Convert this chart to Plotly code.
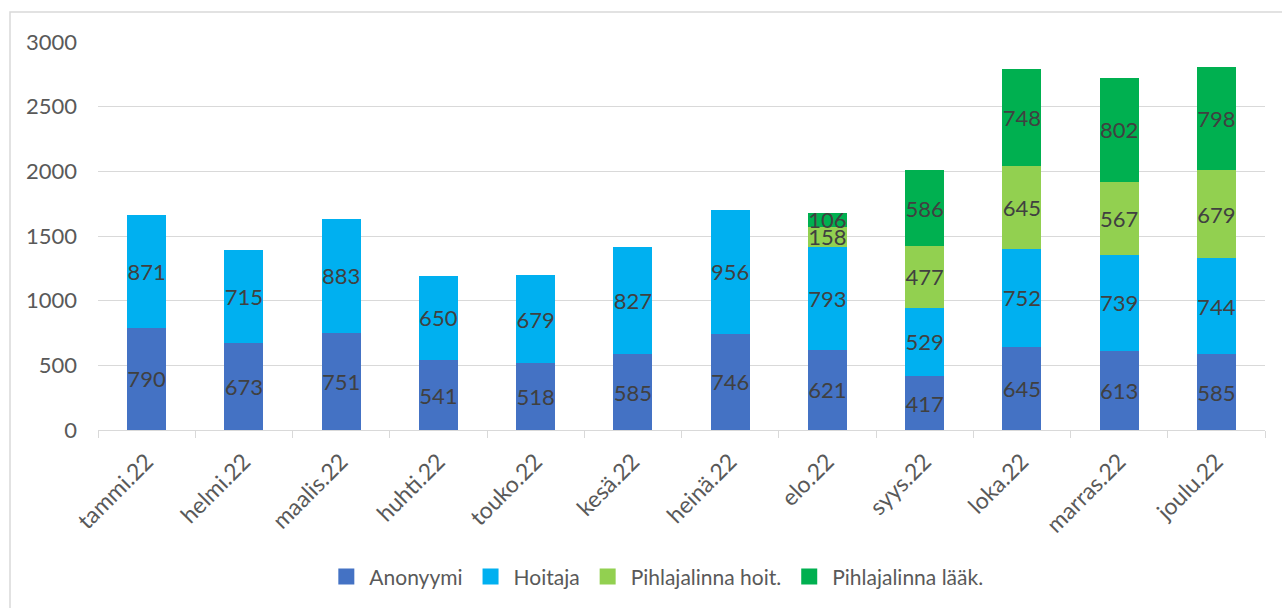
import plotly.graph_objects as go

months = ["tammi.22", "helmi.22", "maalis.22", "huhti.22", "touko.22", "kesä.22",
          "heinä.22", "elo.22", "syys.22", "loka.22", "marras.22", "joulu.22"]
anonyymi = [790, 673, 751, 541, 518, 585, 746, 621, 417, 645, 613, 585]
hoitaja = [871, 715, 883, 650, 679, 827, 956, 793, 529, 752, 739, 744]
pihl_hoit = [None, None, None, None, None, None, None, 158, 477, 645, 567, 679]
pihl_laak = [None, None, None, None, None, None, None, 106, 586, 748, 802, 798]

series = [
    ("Anonyymi", anonyymi, "#4472C4"),
    ("Hoitaja", hoitaja, "#00B0F0"),
    ("Pihlajalinna hoit.", pihl_hoit, "#92D050"),
    ("Pihlajalinna lääk.", pihl_laak, "#00B050"),
]

FONT = "Lato, Open Sans, sans-serif"

fig = go.Figure()
for name, vals, color in series:
    fig.add_trace(go.Bar(
        x=months, y=vals, name=name, legendgroup=name, showlegend=False,
        marker=dict(color=color, line=dict(width=0)),
        text=[str(v) if v is not None else "" for v in vals],
        textposition="inside", insidetextanchor="middle", textangle=0,
        textfont=dict(family=FONT, size=22, color="#404040"),
        hoverinfo="x+y+name",
    ))
# legend entries with larger square swatches
for name, vals, color in series:
    fig.add_trace(go.Scatter(
        x=[None], y=[None], mode="markers", name=name, legendgroup=name,
        marker=dict(symbol="square", size=16, color=color),
        showlegend=True, hoverinfo="skip",
    ))

fig.update_layout(
    barmode="stack",
    bargap=0.6,
    width=1282, height=608,
    margin=dict(l=98, r=17, t=42, b=177),
    paper_bgcolor="white", plot_bgcolor="white",
    uniformtext=dict(minsize=22, mode="show"),
    font=dict(family=FONT, color="#595959", size=21),
    legend=dict(orientation="h", x=0.478, xanchor="center", y=-0.375, yanchor="middle",
                font=dict(family=FONT, size=21, color="#595959"),
                traceorder="normal", itemwidth=36, itemsizing="trace"),
    showlegend=True,
    shapes=[dict(type="rect", xref="paper", yref="paper",
                 x0=(10 - 98) / 1167, x1=(1290 - 98) / 1167,
                 y0=(431 - 620) / 389, y1=(431 - 12) / 389,
                 line=dict(color="#d9d9d9", width=1.5), fillcolor="rgba(0,0,0,0)", layer="below")],
)
fig.update_xaxes(
    showgrid=False, showline=True, linecolor="#d9d9d9", linewidth=1,
    ticks="outside", tickson="boundaries", ticklen=7, tickcolor="#d9d9d9",
    tickangle=-45, ticklabelstandoff=8,
    tickfont=dict(family=FONT, size=23, color="#595959"),
)
fig.update_yaxes(
    range=[0, 3000], dtick=500, showgrid=True, gridcolor="#d9d9d9", gridwidth=1,
    zeroline=False, showline=False, ticks="", ticklabelstandoff=20,
    tickfont=dict(family=FONT, size=22, color="#595959"),
)

fig.write_html("out.html", config={"displayModeBar": False},
               post_script="document.body.style.margin='0';")
